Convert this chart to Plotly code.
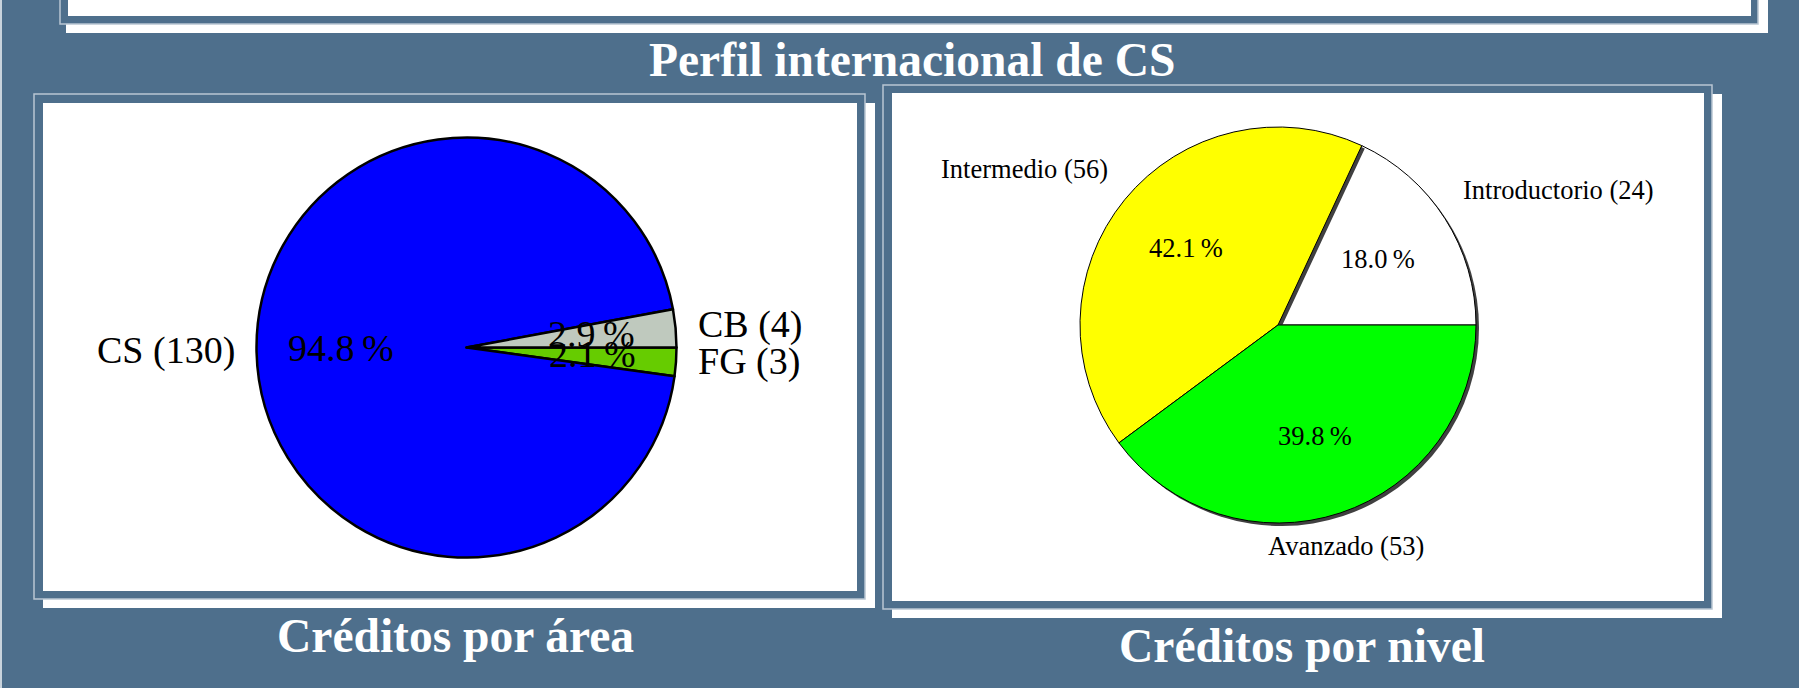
import math
import plotly.graph_objects as go

W, H = 1799, 699
BG = "#4E6F8C"
FRAME_LINE = "#B9C6D2"
SERIF = "Liberation Serif"

# ---- data ----
title_text = "Perfil internacional de CS"

area_title = "Créditos por área"
area_labels = ["CB", "CS", "FG"]
area_values = [4, 130, 3]
area_pct = ["2.9\u2009%", "94.8\u2009%", "2.1\u2009%"]
area_colors = ["#BFC9BE", "#0000FF", "#66CC00"]

nivel_title = "Créditos por nivel"
nivel_labels = ["Introductorio", "Intermedio", "Avanzado"]
nivel_values = [24, 56, 53]
nivel_pct = ["18.0\u2009%", "42.1\u2009%", "39.8\u2009%"]
nivel_colors = ["#FFFFFF", "#FFFF00", "#00FF00"]
SHADOW = "#404040"


def px(x):
    return x / W


def py(y):
    return 1 - y / H


def pie_domain(cx, cy, r):
    return dict(x=[(cx - r) / W, (cx + r) / W], y=[1 - (cy + r) / H, 1 - (cy - r) / H])


def mid_angles(values):
    total = sum(values)
    out, acc = [], 0
    for v in values:
        out.append((acc + v / 2) / total * 360)
        acc += v
    return out


fig = go.Figure()

# ---- left pie (ccw from 3 o'clock in list order == clockwise with reversed lists) ----
LCX, LCY, LR = 466.5, 347.5, 210
fig.add_trace(go.Pie(
    labels=area_labels[::-1], values=area_values[::-1],
    marker=dict(colors=area_colors[::-1], line=dict(color="black", width=2.5)),
    sort=False, direction="clockwise", rotation=90,
    textinfo="none", hoverinfo="skip", showlegend=False,
    domain=pie_domain(LCX, LCY, LR),
))

# ---- right pie with per-slice drop shadow ----
RCX, RCY, RR = 1278, 325, 198
SOFF = 3
n = len(nivel_values)
for i in range(n):
    idx_rev = n - 1 - i  # position of slice i in reversed list
    shadow_cols = ["rgba(0,0,0,0)"] * n
    shadow_cols[idx_rev] = SHADOW
    main_cols = ["rgba(0,0,0,0)"] * n
    main_cols[idx_rev] = nivel_colors[i]
    widths = [0] * n
    widths[idx_rev] = 1
    fig.add_trace(go.Pie(
        labels=nivel_labels[::-1], values=nivel_values[::-1],
        marker=dict(colors=shadow_cols, line=dict(width=0)),
        sort=False, direction="clockwise", rotation=90,
        textinfo="none", hoverinfo="skip", showlegend=False,
        domain=pie_domain(RCX + SOFF, RCY + SOFF, RR),
    ))
    fig.add_trace(go.Pie(
        labels=nivel_labels[::-1], values=nivel_values[::-1],
        marker=dict(colors=main_cols, line=dict(color="black", width=widths)),
        sort=False, direction="clockwise", rotation=90,
        textinfo="none", hoverinfo="skip", showlegend=False,
        domain=pie_domain(RCX, RCY, RR),
    ))

# ---- frames / panels ----
shapes = []


def rect(x0, y0, x1, y1, fill, line_color=None, line_width=0):
    shapes.append(dict(type="rect", xref="paper", yref="paper", layer="below",
                       x0=px(x0), x1=px(x1), y0=py(y1), y1=py(y0),
                       fillcolor=fill,
                       line=dict(color=line_color or fill, width=line_width)))


def panel(frame, inner, shadow):
    rect(*shadow, "white")
    rect(*frame, BG, FRAME_LINE, 1.5)
    rect(*inner, "white")


# page edges outside the slide
rect(-5, 688, W + 5, H + 5, "white")
rect(-5, -5, 2, 688, "#C9D3DC")

panel((60, -20, 1758, 24), (68, -20, 1751, 16), (66, -20, 1768, 33))
panel((34, 94, 865, 599), (43, 103, 857, 591), (43, 103, 875, 608))
panel((883, 85, 1712, 609), (892, 93, 1704, 601), (892, 94, 1722, 618))

annotations = []


def ann(x, y, text, size, xa="center", ya="middle", color="black", bold=False):
    annotations.append(dict(
        x=px(x), y=py(y), xref="paper", yref="paper", showarrow=False,
        text=f"<b>{text}</b>" if bold else text,
        font=dict(family=SERIF, size=size, color=color),
        xanchor=xa, yanchor=ya, borderpad=0,
    ))


def pie_texts(cx, cy, r, labels, values, pct, size):
    for lab, v, p, a in zip(labels, values, pct, mid_angles(values)):
        rad = math.radians(a)
        c, s = math.cos(rad), math.sin(rad)
        ann(cx + 0.6 * r * c, cy - 0.6 * r * s - 2, p, size)
        xa = "left" if c > 0.35 else ("right" if c < -0.35 else "center")
        ya = "bottom" if s > 0.35 else ("top" if s < -0.35 else "middle")
        ann(cx + 1.1 * r * c, cy - 1.1 * r * s - 2, f"{lab} ({v})", size, xa, ya)


pie_texts(LCX, LCY, LR, area_labels, area_values, area_pct, 38)
pie_texts(RCX, RCY, RR, nivel_labels, nivel_values, nivel_pct, 26.5)

ann(912, 60, title_text, 47.5, color="white", bold=True)
ann(455, 636, area_title, 47.5, color="white", bold=True)
ann(1302, 646, nivel_title, 47.5, color="white", bold=True)

fig.update_layout(
    width=W, height=H,
    margin=dict(l=0, r=0, t=0, b=0, pad=0),
    paper_bgcolor=BG, plot_bgcolor=BG,
    shapes=shapes, annotations=annotations,
    showlegend=False,
)

fig.write_html(
    "out.html",
    config={"displayModeBar": False, "staticPlot": True},
    post_script="document.body.style.margin='0';document.body.style.overflow='hidden';",
)
